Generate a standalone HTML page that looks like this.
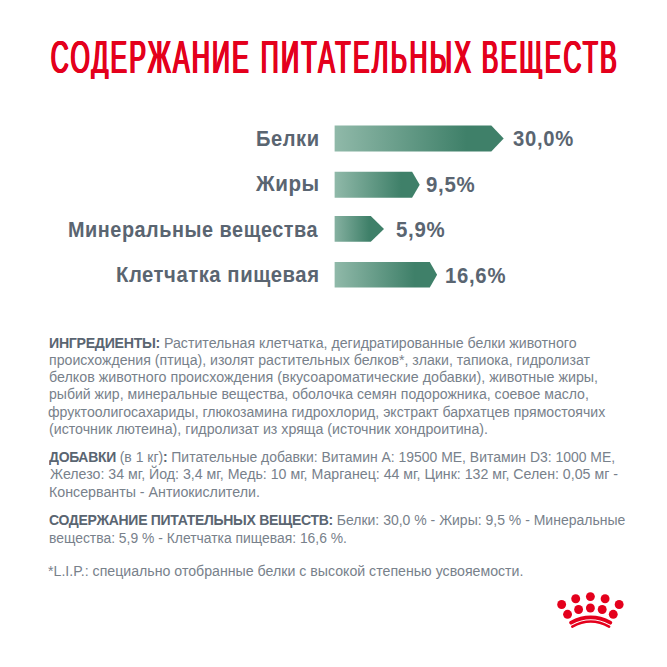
<!DOCTYPE html>
<html><head><meta charset="utf-8"><style>
html,body{margin:0;padding:0;background:#fff;}
body{width:667px;height:667px;position:relative;overflow:hidden;font-family:"Liberation Sans",sans-serif;}
.t{position:absolute;white-space:nowrap;transform-origin:0 0;}
b{font-weight:700;color:#5a6571;letter-spacing:-0.3px;}
svg{position:absolute;left:0;top:0;}
</style></head><body>
<svg width="667" height="667" viewBox="0 0 667 667">
<defs>
<linearGradient id="g" x1="0" y1="0" x2="1" y2="0">
<stop offset="0" stop-color="#90b9a9"/>
<stop offset="0.78" stop-color="#3f8069"/>
<stop offset="1" stop-color="#3f8069"/>
</linearGradient>
<linearGradient id="g3" x1="0" y1="0" x2="1" y2="0">
<stop offset="0" stop-color="#86b1a1"/>
<stop offset="0.7" stop-color="#3f8069"/>
<stop offset="1" stop-color="#3f8069"/>
</linearGradient>
</defs>
<polygon fill="url(#g)" points="334.6,125.4 491.3,125.4 503.7,138.5 491.3,151.6 334.6,151.6"/>
<polygon fill="url(#g)" points="334.6,171.7 412.1,171.7 419.7,184.75 412.1,197.8 334.6,197.8"/>
<polygon fill="url(#g3)" points="334.6,216.1 370.8,216.1 384,228.95 370.8,241.8 334.6,241.8"/>
<polygon fill="url(#g)" points="334.6,261.9 429.8,261.9 437.1,274.75 429.8,287.6 334.6,287.6"/>
<g fill="#e4001c">
<circle cx="561.65" cy="604.5" r="4.45"/>
<circle cx="575.7" cy="598.75" r="4.45"/>
<circle cx="590.4" cy="596.6" r="4.45"/>
<circle cx="605.1" cy="598.75" r="4.45"/>
<circle cx="619.15" cy="604.5" r="4.45"/>
<circle cx="567.55" cy="614.3" r="4.45"/>
<circle cx="578.6" cy="609.5" r="4.45"/>
<circle cx="590.4" cy="608" r="4.45"/>
<circle cx="602.2" cy="609.5" r="4.45"/>
<circle cx="613.25" cy="614.3" r="4.45"/>
</g>
<g fill="none" stroke="#e4001c" stroke-linecap="round">
<path d="M571.1 622.6 Q590.7 612.2 610.3 622.6" stroke-width="3.9"/>
<path d="M572.3 626.6 Q590.7 616.4 609.1 626.6" stroke-width="2.6"/>
</g>
</svg>

<div class="t" style="left:50.00px;top:33.76px;font-size:46px;line-height:46px;font-weight:400;color:#e4001c;transform:scaleX(0.5400);letter-spacing:4.148px;text-shadow:1px 0 0 #e4001c,2px 0 0 #e4001c,3px 0 0 #e4001c;">СОДЕРЖАНИЕ</div>
<div class="t" style="left:259.60px;top:33.76px;font-size:46px;line-height:46px;font-weight:400;color:#e4001c;transform:scaleX(0.5400);letter-spacing:4.553px;text-shadow:1px 0 0 #e4001c,2px 0 0 #e4001c,3px 0 0 #e4001c;">ПИТАТЕЛЬНЫХ</div>
<div class="t" style="left:481.00px;top:33.76px;font-size:46px;line-height:46px;font-weight:400;color:#e4001c;transform:scaleX(0.5400);letter-spacing:4.008px;text-shadow:1px 0 0 #e4001c,2px 0 0 #e4001c,3px 0 0 #e4001c;">ВЕЩЕСТВ</div>
<div class="t" style="left:256.00px;top:127.78px;font-size:22px;line-height:22px;font-weight:700;color:#5a6571;transform:scaleX(0.9140);letter-spacing:0.600px;">Белки</div>
<div class="t" style="left:256.00px;top:172.78px;font-size:22px;line-height:22px;font-weight:700;color:#5a6571;transform:scaleX(0.9362);letter-spacing:0.600px;">Жиры</div>
<div class="t" style="left:68.00px;top:219.08px;font-size:22px;line-height:22px;font-weight:700;color:#5a6571;transform:scaleX(0.9016);letter-spacing:0.600px;">Минеральные вещества</div>
<div class="t" style="left:116.40px;top:263.58px;font-size:22px;line-height:22px;font-weight:700;color:#5a6571;transform:scaleX(0.9206);letter-spacing:0.600px;">Клетчатка пищевая</div>
<div class="t" style="left:513.20px;top:128.15px;font-size:22.5px;line-height:22.5px;font-weight:700;color:#5a6571;transform:scaleX(0.8990);letter-spacing:0.800px;">30,0%</div>
<div class="t" style="left:426.40px;top:174.15px;font-size:22.5px;line-height:22.5px;font-weight:700;color:#5a6571;transform:scaleX(0.9068);letter-spacing:0.800px;">9,5%</div>
<div class="t" style="left:395.60px;top:218.65px;font-size:22.5px;line-height:22.5px;font-weight:700;color:#5a6571;transform:scaleX(0.9068);letter-spacing:0.800px;">5,9%</div>
<div class="t" style="left:444.60px;top:264.55px;font-size:22.5px;line-height:22.5px;font-weight:700;color:#5a6571;transform:scaleX(0.9018);letter-spacing:0.800px;">16,6%</div>
<div class="t" style="left:49.40px;top:335.85px;font-size:14px;line-height:14px;font-weight:400;color:#78818b;transform:scaleX(1.0130);letter-spacing:0.000px;"><b>ИНГРЕДИЕНТЫ:</b> Растительная клетчатка, дегидратированные белки животного</div>
<div class="t" style="left:49.00px;top:353.15px;font-size:14px;line-height:14px;font-weight:400;color:#78818b;transform:scaleX(1.0101);letter-spacing:0.000px;">происхождения (птица), изолят растительных белков*, злаки, тапиока, гидролизат</div>
<div class="t" style="left:49.00px;top:370.35px;font-size:14px;line-height:14px;font-weight:400;color:#78818b;transform:scaleX(1.0197);letter-spacing:0.000px;">белков животного происхождения (вкусоароматические добавки), животные жиры,</div>
<div class="t" style="left:49.00px;top:387.45px;font-size:14px;line-height:14px;font-weight:400;color:#78818b;transform:scaleX(1.0045);letter-spacing:0.000px;">рыбий жир, минеральные вещества, оболочка семян подорожника, соевое масло,</div>
<div class="t" style="left:48.40px;top:404.55px;font-size:14px;line-height:14px;font-weight:400;color:#78818b;transform:scaleX(1.0059);letter-spacing:0.000px;">фруктоолигосахариды, глюкозамина гидрохлорид, экстракт бархатцев прямостоячих</div>
<div class="t" style="left:49.00px;top:422.15px;font-size:14px;line-height:14px;font-weight:400;color:#78818b;transform:scaleX(1.0147);letter-spacing:0.000px;">(источник лютеина), гидролизат из хряща (источник хондроитина).</div>
<div class="t" style="left:49.20px;top:449.95px;font-size:14px;line-height:14px;font-weight:400;color:#78818b;transform:scaleX(0.9960);letter-spacing:0.000px;"><b>ДОБАВКИ</b> (в 1 кг)<b>:</b> Питательные добавки: Витамин А: 19500 МЕ, Витамин D3: 1000 МЕ,</div>
<div class="t" style="left:50.00px;top:467.35px;font-size:14px;line-height:14px;font-weight:400;color:#78818b;transform:scaleX(1.0124);letter-spacing:0.000px;">Железо: 34 мг, Йод: 3,4 мг, Медь: 10 мг, Марганец: 44 мг, Цинк: 132 мг, Селен: 0,05 мг -</div>
<div class="t" style="left:49.00px;top:484.95px;font-size:14px;line-height:14px;font-weight:400;color:#78818b;transform:scaleX(1.0164);letter-spacing:0.000px;">Консерванты - Антиокислители.</div>
<div class="t" style="left:48.60px;top:512.95px;font-size:14px;line-height:14px;font-weight:400;color:#78818b;transform:scaleX(0.9996);letter-spacing:0.000px;"><b>СОДЕРЖАНИЕ ПИТАТЕЛЬНЫХ ВЕЩЕСТВ:</b> Белки: 30,0 % - Жиры: 9,5 % - Минеральные</div>
<div class="t" style="left:49.00px;top:530.55px;font-size:14px;line-height:14px;font-weight:400;color:#78818b;transform:scaleX(0.9915);letter-spacing:0.000px;">вещества: 5,9 % - Клетчатка пищевая: 16,6 %.</div>
<div class="t" style="left:47.80px;top:564.45px;font-size:14px;line-height:14px;font-weight:400;color:#78818b;transform:scaleX(1.0111);letter-spacing:0.000px;">*L.I.P.: специально отобранные белки с высокой степенью усвояемости.</div>
<div style="position:absolute;left:60px;top:78.5px;width:560px;height:8px;background:#fff"></div>
</body></html>
